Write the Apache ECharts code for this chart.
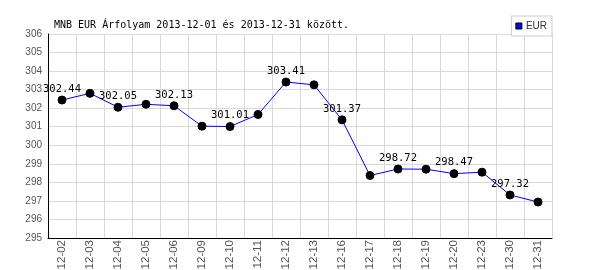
<!DOCTYPE html>
<html><head><meta charset="utf-8">
<script src="https://cdn.jsdelivr.net/npm/echarts@6/dist/echarts.min.js"></script>
<style>html,body{margin:0;padding:0;background:#fff}#c{width:600px;height:270px}</style>
</head><body><div id="c"></div>
<script>
var titleText = 'MNB EUR Árfolyam 2013-12-01 és 2013-12-31 között.';
var categories = ['12-02','12-03','12-04','12-05','12-06','12-09','12-10','12-11','12-12','12-13','12-16','12-17','12-18','12-19','12-20','12-23','12-30','12-31'];
var eurValues = [302.44, 302.80, 302.05, 302.21, 302.13, 301.03, 301.01, 301.66, 303.41, 303.26, 301.37, 298.37, 298.72, 298.71, 298.47, 298.55, 297.32, 296.94];
var yMin = 295, yMax = 306, yStep = 1;

var chart = echarts.init(document.getElementById('c'), null, {renderer: 'canvas'});
chart.setOption({
  animation: false,
  backgroundColor: '#fff',
  title: {
    text: titleText, left: 49, top: 15,
    textStyle: {fontFamily: 'DejaVu Sans Mono', fontSize: 10, fontWeight: 'normal', color: '#000'}
  },
  legend: {
    data: [{name: 'EUR', itemStyle: {color: '#0000ff', borderColor: '#000', borderWidth: 1}}],
    right: 48, top: 16,
    backgroundColor: '#fff', borderColor: '#ccc', borderWidth: 1,
    padding: [5, 5, 5, 4], itemWidth: 6, itemHeight: 6, itemGap: 4,
    icon: 'rect',
    textStyle: {fontFamily: 'Liberation Sans', fontSize: 10, color: '#333', padding: [0,0,0,-1]}
  },
  grid: {left: 48, right: 48, top: 34, bottom: 32, containLabel: false, outerBoundsMode: 'none', show: false},
  xAxis: {
    type: 'category', data: categories, boundaryGap: true,
    axisLine: {lineStyle: {color: '#000', width: 1}},
    axisTick: {show: false},
    splitLine: {show: true, interval: 0, lineStyle: {color: '#d9d9d9', width: 1}},
    axisLabel: {interval: 0, rotate: 90, margin: 2, color: '#555', fontFamily: 'Liberation Sans', fontSize: 11.5}
  },
  yAxis: {
    type: 'value', min: yMin, max: yMax, interval: yStep,
    axisLine: {show: true, lineStyle: {color: '#000', width: 1}},
    axisTick: {show: false},
    splitLine: {show: true, lineStyle: {color: '#d9d9d9', width: 1}},
    axisLabel: {margin: 6, color: '#555', fontFamily: 'Liberation Sans', fontSize: 10}
  },
  series: [{
    name: 'EUR', type: 'line', data: eurValues,
    symbol: 'circle', symbolSize: 8,
    itemStyle: {color: '#000', borderColor: '#000'},
    lineStyle: {color: '#0000ff', width: 1},
    label: {
      show: true, position: 'top', distance: 1,
      fontFamily: 'DejaVu Sans Mono', fontSize: 10.5, color: '#000',
      formatter: function (p) { return p.dataIndex % 2 === 0 ? p.value.toFixed(2) : ''; }
    }
  }]
});
</script></body></html>
